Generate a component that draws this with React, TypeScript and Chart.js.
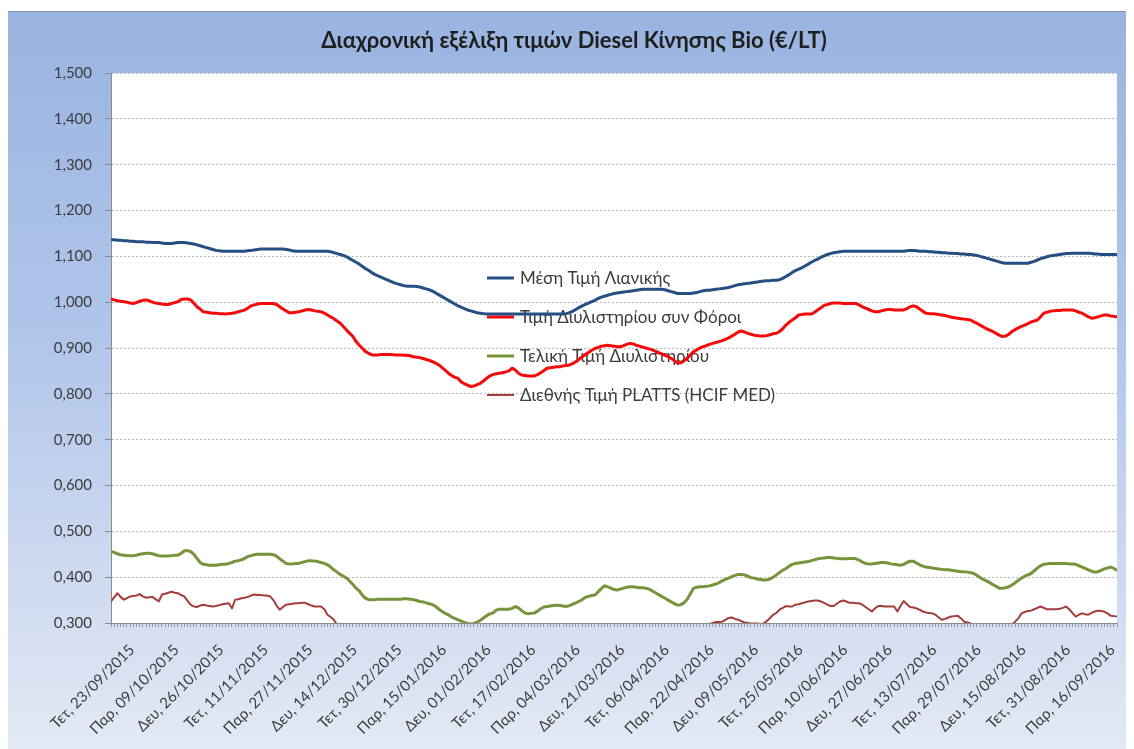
import React, { useEffect, useRef } from 'react';
import { Chart, registerables } from 'chart.js';

Chart.register(...registerables);

const TITLE = 'Διαχρονική εξέλιξη τιμών Diesel Κίνησης Bio (€/LT)';

const SERIES_NAMES = [
  'Μέση Τιμή Λιανικής',
  'Τιμή Διυλιστηρίου συν Φόροι',
  'Τελική Τιμή Διυλιστηρίου',
  'Διεθνής Τιμή PLATTS (HCIF MED)',
];

const DAY_NAMES = ['Κυρ', 'Δευ', 'Τρι', 'Τετ', 'Πεμ', 'Παρ', 'Σαβ'];
const START_DATE = { year: 2015, month: 9, day: 23 };
const POINT_COUNT = 317;
const TICK_EVERY = 14;

const TICK_LABELS = [
  'Τετ, 23/09/2015', 'Παρ, 09/10/2015', 'Δευ, 26/10/2015', 'Τετ, 11/11/2015',
  'Παρ, 27/11/2015', 'Δευ, 14/12/2015', 'Τετ, 30/12/2015', 'Παρ, 15/01/2016',
  'Δευ, 01/02/2016', 'Τετ, 17/02/2016', 'Παρ, 04/03/2016', 'Δευ, 21/03/2016',
  'Τετ, 06/04/2016', 'Παρ, 22/04/2016', 'Δευ, 09/05/2016', 'Τετ, 25/05/2016',
  'Παρ, 10/06/2016', 'Δευ, 27/06/2016', 'Τετ, 13/07/2016', 'Παρ, 29/07/2016',
  'Δευ, 15/08/2016', 'Τετ, 31/08/2016', 'Παρ, 16/09/2016',
];

const Y_MIN = 0.3;
const Y_MAX = 1.5;
const Y_STEP = 0.1;

// Μέση Τιμή Λιανικής
const RETAIL = [
  1.136, 1.136, 1.135, 1.135, 1.134, 1.134, 1.133, 1.133, 1.132, 1.132,
  1.132, 1.131, 1.131, 1.130, 1.130, 1.130, 1.129, 1.128, 1.128, 1.128,
  1.129, 1.130, 1.130, 1.130, 1.129, 1.128, 1.127, 1.125, 1.123, 1.121,
  1.119, 1.117, 1.115, 1.113, 1.112, 1.111, 1.111, 1.111, 1.111, 1.111,
  1.111, 1.111, 1.111, 1.112, 1.113, 1.114, 1.115, 1.116, 1.116, 1.116,
  1.116, 1.116, 1.116, 1.116, 1.116, 1.115, 1.114, 1.112, 1.111, 1.111,
  1.111, 1.111, 1.111, 1.111, 1.111, 1.111, 1.111, 1.111, 1.111, 1.110,
  1.108, 1.106, 1.104, 1.102, 1.099, 1.095, 1.091, 1.087, 1.083, 1.078,
  1.073, 1.069, 1.064, 1.060, 1.057, 1.054, 1.051, 1.048, 1.045, 1.042,
  1.040, 1.038, 1.036, 1.035, 1.035, 1.035, 1.034, 1.033, 1.031, 1.029,
  1.027, 1.024, 1.020, 1.016, 1.012, 1.008, 1.004, 1.000, 0.996, 0.992,
  0.989, 0.986, 0.983, 0.981, 0.979, 0.977, 0.976, 0.975, 0.974, 0.974,
  0.974, 0.974, 0.974, 0.974, 0.974, 0.974, 0.974, 0.974, 0.974, 0.974,
  0.974, 0.974, 0.974, 0.974, 0.974, 0.974, 0.974, 0.974, 0.974, 0.974,
  0.974, 0.974, 0.974, 0.975, 0.977, 0.980, 0.984, 0.988, 0.992, 0.995,
  0.998, 1.001, 1.004, 1.008, 1.011, 1.013, 1.015, 1.017, 1.019, 1.020,
  1.021, 1.022, 1.023, 1.024, 1.025, 1.026, 1.027, 1.028, 1.028, 1.028,
  1.028, 1.028, 1.028, 1.028, 1.027, 1.025, 1.023, 1.021, 1.019, 1.019,
  1.019, 1.019, 1.019, 1.020, 1.021, 1.023, 1.025, 1.026, 1.026, 1.027,
  1.028, 1.029, 1.030, 1.031, 1.032, 1.034, 1.036, 1.038, 1.039, 1.040,
  1.041, 1.042, 1.043, 1.044, 1.045, 1.046, 1.047, 1.047, 1.048, 1.048,
  1.049, 1.052, 1.056, 1.060, 1.065, 1.069, 1.072, 1.075, 1.079, 1.083,
  1.087, 1.091, 1.094, 1.098, 1.101, 1.104, 1.106, 1.108, 1.109, 1.110,
  1.111, 1.111, 1.111, 1.111, 1.111, 1.111, 1.111, 1.111, 1.111, 1.111,
  1.111, 1.111, 1.111, 1.111, 1.111, 1.111, 1.111, 1.111, 1.111, 1.111,
  1.112, 1.113, 1.113, 1.112, 1.111, 1.111, 1.111, 1.110, 1.110, 1.109,
  1.109, 1.108, 1.108, 1.107, 1.107, 1.106, 1.106, 1.105, 1.105, 1.104,
  1.104, 1.103, 1.102, 1.100, 1.098, 1.096, 1.094, 1.092, 1.090, 1.088,
  1.086, 1.085, 1.085, 1.085, 1.085, 1.085, 1.085, 1.085, 1.085, 1.087,
  1.089, 1.092, 1.095, 1.097, 1.099, 1.101, 1.102, 1.103, 1.104, 1.105,
  1.106, 1.106, 1.107, 1.107, 1.107, 1.107, 1.107, 1.107, 1.106, 1.105,
  1.105, 1.104, 1.104, 1.104, 1.104, 1.104, 1.104,
];

// Τιμή Διυλιστηρίου συν Φόροι
const REFINERY_TAX = [
  1.007, 1.005, 1.003, 1.002, 1.001, 1.000, 0.998, 0.997, 0.999, 1.002,
  1.004, 1.005, 1.003, 1.000, 0.998, 0.997, 0.996, 0.995, 0.995, 0.997,
  0.999, 1.001, 1.006, 1.007, 1.007, 1.005, 0.998, 0.990, 0.985, 0.979,
  0.978, 0.977, 0.976, 0.976, 0.975, 0.975, 0.974, 0.975, 0.976, 0.977,
  0.979, 0.981, 0.983, 0.987, 0.992, 0.994, 0.996, 0.997, 0.997, 0.997,
  0.997, 0.997, 0.995, 0.990, 0.985, 0.981, 0.977, 0.977, 0.978, 0.979,
  0.981, 0.983, 0.984, 0.983, 0.981, 0.980, 0.979, 0.976, 0.972, 0.968,
  0.964, 0.959, 0.954, 0.947, 0.939, 0.932, 0.925, 0.914, 0.906, 0.899,
  0.892, 0.888, 0.885, 0.885, 0.885, 0.886, 0.886, 0.886, 0.886, 0.885,
  0.885, 0.885, 0.884, 0.884, 0.883, 0.881, 0.880, 0.879, 0.877, 0.875,
  0.873, 0.870, 0.867, 0.863, 0.857, 0.851, 0.845, 0.840, 0.836, 0.834,
  0.826, 0.822, 0.819, 0.816, 0.817, 0.820, 0.823, 0.828, 0.834, 0.839,
  0.842, 0.844, 0.845, 0.846, 0.848, 0.850, 0.856, 0.852, 0.845, 0.841,
  0.840, 0.839, 0.839, 0.839, 0.842, 0.846, 0.851, 0.856, 0.857, 0.858,
  0.859, 0.859, 0.861, 0.862, 0.863, 0.866, 0.870, 0.875, 0.881, 0.886,
  0.890, 0.895, 0.899, 0.901, 0.904, 0.905, 0.906, 0.905, 0.904, 0.903,
  0.903, 0.905, 0.908, 0.910, 0.909, 0.906, 0.904, 0.902, 0.900, 0.898,
  0.896, 0.893, 0.890, 0.887, 0.884, 0.881, 0.877, 0.872, 0.867, 0.868,
  0.872, 0.878, 0.885, 0.892, 0.896, 0.900, 0.903, 0.905, 0.908, 0.910,
  0.912, 0.914, 0.916, 0.919, 0.922, 0.926, 0.930, 0.935, 0.937, 0.935,
  0.932, 0.930, 0.928, 0.927, 0.926, 0.926, 0.927, 0.929, 0.931, 0.932,
  0.936, 0.942, 0.950, 0.956, 0.961, 0.966, 0.972, 0.973, 0.974, 0.974,
  0.974, 0.978, 0.983, 0.988, 0.993, 0.995, 0.997, 0.998, 0.998, 0.998,
  0.997, 0.997, 0.997, 0.997, 0.997, 0.994, 0.990, 0.987, 0.984, 0.981,
  0.979, 0.979, 0.981, 0.983, 0.984, 0.984, 0.983, 0.983, 0.983, 0.983,
  0.986, 0.990, 0.992, 0.990, 0.985, 0.980, 0.976, 0.975, 0.975, 0.974,
  0.973, 0.972, 0.971, 0.969, 0.967, 0.966, 0.965, 0.964, 0.963, 0.962,
  0.961, 0.957, 0.954, 0.950, 0.946, 0.942, 0.939, 0.936, 0.932, 0.928,
  0.925, 0.926, 0.930, 0.936, 0.940, 0.944, 0.947, 0.950, 0.953, 0.957,
  0.959, 0.961, 0.968, 0.976, 0.978, 0.980, 0.981, 0.982, 0.982, 0.983,
  0.983, 0.983, 0.983, 0.981, 0.978, 0.976, 0.972, 0.968, 0.965, 0.966,
  0.968, 0.970, 0.972, 0.972, 0.970, 0.969, 0.968,
];

// Τελική Τιμή Διυλιστηρίου
const REFINERY = [
  0.456, 0.454, 0.451, 0.449, 0.448, 0.447, 0.447, 0.447, 0.448, 0.450,
  0.451, 0.452, 0.452, 0.451, 0.449, 0.447, 0.446, 0.446, 0.446, 0.447,
  0.448, 0.448, 0.452, 0.457, 0.458, 0.456, 0.450, 0.441, 0.432, 0.428,
  0.427, 0.426, 0.426, 0.426, 0.427, 0.428, 0.428, 0.430, 0.432, 0.435,
  0.436, 0.438, 0.441, 0.445, 0.447, 0.449, 0.450, 0.450, 0.450, 0.450,
  0.450, 0.449, 0.446, 0.440, 0.435, 0.430, 0.429, 0.429, 0.430, 0.430,
  0.432, 0.434, 0.436, 0.436, 0.435, 0.434, 0.432, 0.430, 0.427, 0.422,
  0.416, 0.411, 0.406, 0.402, 0.398, 0.391, 0.384, 0.376, 0.370, 0.360,
  0.354, 0.351, 0.351, 0.351, 0.352, 0.352, 0.352, 0.352, 0.352, 0.352,
  0.352, 0.352, 0.353, 0.353, 0.352, 0.351, 0.349, 0.347, 0.346, 0.344,
  0.342, 0.340, 0.336, 0.330, 0.325, 0.321, 0.318, 0.313, 0.310, 0.307,
  0.304, 0.301, 0.299, 0.298, 0.299, 0.302, 0.306, 0.311, 0.316, 0.320,
  0.322, 0.328, 0.330, 0.330, 0.330, 0.330, 0.332, 0.336, 0.333, 0.327,
  0.322, 0.320, 0.321, 0.322, 0.326, 0.331, 0.335, 0.336, 0.337, 0.338,
  0.339, 0.338, 0.337, 0.336, 0.338, 0.341, 0.344, 0.347, 0.351, 0.356,
  0.358, 0.360, 0.361, 0.368, 0.375, 0.381, 0.379, 0.376, 0.373, 0.372,
  0.374, 0.376, 0.378, 0.379, 0.379, 0.378, 0.377, 0.377, 0.376, 0.374,
  0.370, 0.366, 0.362, 0.358, 0.354, 0.350, 0.346, 0.342, 0.339, 0.340,
  0.344, 0.352, 0.364, 0.376, 0.378, 0.379, 0.379, 0.380, 0.381, 0.383,
  0.385, 0.388, 0.392, 0.395, 0.398, 0.401, 0.404, 0.406, 0.406, 0.405,
  0.402, 0.399, 0.398, 0.396, 0.395, 0.394, 0.394, 0.396, 0.400, 0.405,
  0.410, 0.415, 0.419, 0.424, 0.428, 0.430, 0.431, 0.432, 0.433, 0.434,
  0.436, 0.438, 0.440, 0.441, 0.442, 0.443, 0.443, 0.442, 0.441, 0.440,
  0.440, 0.440, 0.441, 0.441, 0.440, 0.437, 0.433, 0.430, 0.429, 0.429,
  0.430, 0.431, 0.432, 0.432, 0.431, 0.429, 0.428, 0.427, 0.426, 0.428,
  0.432, 0.435, 0.435, 0.431, 0.427, 0.424, 0.422, 0.421, 0.420, 0.419,
  0.418, 0.417, 0.416, 0.416, 0.415, 0.414, 0.413, 0.412, 0.412, 0.411,
  0.410, 0.408, 0.404, 0.399, 0.395, 0.392, 0.388, 0.384, 0.380, 0.376,
  0.376, 0.377, 0.379, 0.383, 0.388, 0.393, 0.398, 0.402, 0.405, 0.408,
  0.414, 0.420, 0.425, 0.428, 0.429, 0.430, 0.430, 0.430, 0.430, 0.430,
  0.430, 0.429, 0.429, 0.428, 0.425, 0.422, 0.419, 0.416, 0.413, 0.411,
  0.412, 0.415, 0.418, 0.420, 0.422, 0.419, 0.415,
];

// Διεθνής Τιμή PLATTS (HCIF MED) — values under 0,300 are below the axis
const PLATTS = [
  0.347, 0.356, 0.365, 0.357, 0.351, 0.354, 0.358, 0.359, 0.360, 0.363,
  0.358, 0.355, 0.356, 0.357, 0.352, 0.347, 0.362, 0.364, 0.366, 0.368,
  0.366, 0.365, 0.361, 0.358, 0.349, 0.340, 0.336, 0.335, 0.338, 0.340,
  0.338, 0.337, 0.336, 0.337, 0.339, 0.341, 0.342, 0.343, 0.332, 0.351,
  0.352, 0.354, 0.355, 0.357, 0.360, 0.362, 0.361, 0.361, 0.360, 0.360,
  0.358, 0.350, 0.338, 0.329, 0.335, 0.340, 0.341, 0.342, 0.343, 0.343,
  0.344, 0.344, 0.341, 0.338, 0.336, 0.336, 0.336, 0.330, 0.318, 0.313,
  0.307, 0.296, 0.290, 0.285, 0.280, 0.276, 0.272, 0.268, 0.265, 0.262,
  0.258, 0.255, 0.253, 0.252, 0.252, 0.253, 0.254, 0.255, 0.255, 0.256,
  0.256, 0.256, 0.257, 0.257, 0.256, 0.255, 0.253, 0.250, 0.248, 0.245,
  0.242, 0.239, 0.235, 0.230, 0.226, 0.222, 0.219, 0.215, 0.212, 0.209,
  0.207, 0.205, 0.204, 0.203, 0.204, 0.207, 0.211, 0.216, 0.221, 0.225,
  0.228, 0.233, 0.236, 0.236, 0.236, 0.237, 0.240, 0.244, 0.240, 0.234,
  0.229, 0.227, 0.228, 0.230, 0.234, 0.239, 0.243, 0.244, 0.245, 0.246,
  0.247, 0.246, 0.245, 0.245, 0.247, 0.250, 0.254, 0.257, 0.261, 0.266,
  0.268, 0.270, 0.272, 0.278, 0.285, 0.291, 0.289, 0.286, 0.283, 0.282,
  0.284, 0.286, 0.288, 0.289, 0.289, 0.288, 0.287, 0.286, 0.285, 0.283,
  0.279, 0.275, 0.271, 0.267, 0.263, 0.259, 0.255, 0.251, 0.248, 0.250,
  0.254, 0.262, 0.274, 0.285, 0.289, 0.292, 0.294, 0.296, 0.298, 0.300,
  0.302, 0.302, 0.303, 0.307, 0.311, 0.312, 0.309, 0.307, 0.304, 0.301,
  0.300, 0.299, 0.299, 0.299, 0.298, 0.299, 0.304, 0.311, 0.318, 0.322,
  0.329, 0.333, 0.337, 0.336, 0.336, 0.340, 0.341, 0.343, 0.345, 0.347,
  0.348, 0.349, 0.349, 0.347, 0.344, 0.340, 0.337, 0.337, 0.342, 0.347,
  0.349, 0.347, 0.344, 0.344, 0.343, 0.343, 0.340, 0.335, 0.330, 0.325,
  0.332, 0.337, 0.337, 0.336, 0.336, 0.336, 0.336, 0.325, 0.337, 0.348,
  0.341, 0.335, 0.334, 0.332, 0.329, 0.325, 0.323, 0.322, 0.321, 0.318,
  0.312, 0.307, 0.309, 0.312, 0.314, 0.315, 0.316, 0.310, 0.303, 0.301,
  0.299, 0.296, 0.294, 0.292, 0.291, 0.290, 0.289, 0.289, 0.288, 0.288,
  0.289, 0.290, 0.292, 0.296, 0.303, 0.310, 0.321, 0.324, 0.326, 0.327,
  0.330, 0.333, 0.336, 0.333, 0.330, 0.330, 0.330, 0.330, 0.331, 0.333,
  0.336, 0.330, 0.322, 0.314, 0.318, 0.321, 0.319, 0.318, 0.322, 0.325,
  0.327, 0.326, 0.325, 0.321, 0.316, 0.315, 0.314,
];

const SERIES_VALUES = [RETAIL, REFINERY_TAX, REFINERY, PLATTS];
const SERIES_COLORS = ['#254e82', '#f40a0a', '#77933c', '#a33d3c'];
const SERIES_WIDTHS = [3, 3, 3, 2];

const FONT = 'Lato, "Noto Sans", sans-serif';
const CANVAS_W = 1126;
const CANVAS_H = 737;

function pad2(n: number) {
  return n < 10 ? '0' + n : '' + n;
}

function buildCategories(): string[] {
  const out: string[] = [];
  const d = new Date(START_DATE.year, START_DATE.month - 1, START_DATE.day, 12);
  while (out.length < POINT_COUNT) {
    if (d.getDay() !== 0) {
      out.push(`${DAY_NAMES[d.getDay()]}, ${pad2(d.getDate())}/${pad2(d.getMonth() + 1)}/${d.getFullYear()}`);
    }
    d.setDate(d.getDate() + 1);
  }
  return out;
}

const plotBackground = {
  id: 'plotBackground',
  beforeDraw(chart: any) {
    const { ctx, chartArea } = chart;
    ctx.save();
    ctx.fillStyle = '#ffffff';
    ctx.fillRect(chartArea.left, chartArea.top, chartArea.right - chartArea.left, chartArea.bottom - chartArea.top);
    ctx.restore();
  },
};

const titlePlugin = {
  id: 'excelTitle',
  afterDraw(chart: any) {
    const { ctx } = chart;
    ctx.save();
    ctx.font = `bold 22px ${FONT}`;
    ctx.fillStyle = '#1e1e1e';
    ctx.textAlign = 'center';
    ctx.textBaseline = 'middle';
    ctx.fillText(TITLE, 566, 29);
    ctx.restore();
  },
};

const insideLegend = {
  id: 'insideLegend',
  beforeDatasetsDraw(chart: any) {
    const { ctx, chartArea } = chart;
    const x0 = chartArea.left + 376;
    const y0 = chartArea.top + 205;
    ctx.save();
    ctx.font = `17px ${FONT}`;
    ctx.textAlign = 'left';
    ctx.textBaseline = 'middle';
    SERIES_NAMES.forEach((name, k) => {
      const y = y0 + k * 39;
      ctx.strokeStyle = SERIES_COLORS[k];
      ctx.lineWidth = SERIES_WIDTHS[k];
      ctx.beginPath();
      ctx.moveTo(x0, y);
      ctx.lineTo(x0 + 27, y);
      ctx.stroke();
      ctx.fillStyle = '#3c3c3c';
      ctx.fillText(name, x0 + 33, y + 1);
    });
    ctx.restore();
  },
};

export default function App() {
  const canvasRef = useRef<HTMLCanvasElement | null>(null);

  useEffect(() => {
    const canvas = canvasRef.current;
    if (!canvas) return;
    const categories = buildCategories();
    const chart = new Chart(canvas, {
      type: 'line',
      data: {
        labels: categories,
        datasets: SERIES_VALUES.map((values, k) => ({
          label: SERIES_NAMES[k],
          data: values,
          borderColor: SERIES_COLORS[k],
          backgroundColor: SERIES_COLORS[k],
          borderWidth: SERIES_WIDTHS[k],
          pointRadius: 0,
          tension: 0,
          fill: false,
          clip: 0,
          borderJoinStyle: 'round',
          borderCapStyle: 'round',
        })),
      },
      options: {
        animation: false,
        responsive: false,
        maintainAspectRatio: false,
        devicePixelRatio: 1,
        layout: { padding: { left: 0, right: 17, top: 61, bottom: 0 } },
        plugins: {
          legend: { display: false },
          title: { display: false },
          tooltip: { enabled: false },
        },
        scales: {
          x: {
            type: 'category',
            offset: false,
            grid: {
              display: true,
              drawOnChartArea: false,
              drawTicks: true,
              tickLength: 4,
              tickColor: '#9a9a9a',
              tickWidth: 1,
            },
            border: { display: true, color: '#8a8a8a', width: 1 },
            ticks: {
              autoSkip: false,
              minRotation: 45,
              maxRotation: 45,
              labelOffset: 21,
              padding: 14,
              color: '#3c3c3c',
              font: { family: FONT, size: 15 },
              callback: (_v: any, i: number) => (i % TICK_EVERY === 0 ? TICK_LABELS[i / TICK_EVERY] ?? '' : ''),
            },
            afterFit: (scale: any) => {
              scale.height = 126;
              scale.paddingLeft = 0;
              scale.paddingRight = 0;
            },
          },
          y: {
            min: Y_MIN,
            max: Y_MAX,
            grid: {
              color: '#b8b8b8',
              lineWidth: 1,
              drawTicks: true,
              tickLength: 6,
              tickColor: '#8a8a8a',
              tickBorderDash: [],
            },
            border: { display: true, color: '#8a8a8a', width: 1, dash: [2, 2] },
            ticks: {
              stepSize: Y_STEP,
              padding: 13,
              color: '#3c3c3c',
              font: { family: FONT, size: 15 },
              callback: (v: any) => Number(v).toFixed(3).replace('.', ','),
            },
            afterFit: (scale: any) => {
              scale.width = 103;
              scale.paddingTop = 0;
              scale.paddingBottom = 0;
            },
          },
        },
      },
      plugins: [plotBackground, insideLegend, titlePlugin],
    } as any);
    return () => chart.destroy();
  }, []);

  return (
    <div style={{ paddingTop: 3 }}>
      <style>{'html,body{overflow:hidden}'}</style>
      <div
        style={{
          position: 'relative',
          marginLeft: -1,
          width: 1127,
          height: 738,
          boxSizing: 'border-box',
          borderTop: '1px solid #8797ad',
          borderLeft: '1px solid #8797ad',
          background: 'linear-gradient(180deg, #99b4e0 0%, #b2c6ea 45%, #e3e9f5 100%)',
        }}
      >
        <canvas
          ref={canvasRef}
          width={CANVAS_W}
          height={CANVAS_H}
          style={{ position: 'absolute', left: 0, top: 0, width: CANVAS_W, height: CANVAS_H }}
        />
      </div>
    </div>
  );
}
